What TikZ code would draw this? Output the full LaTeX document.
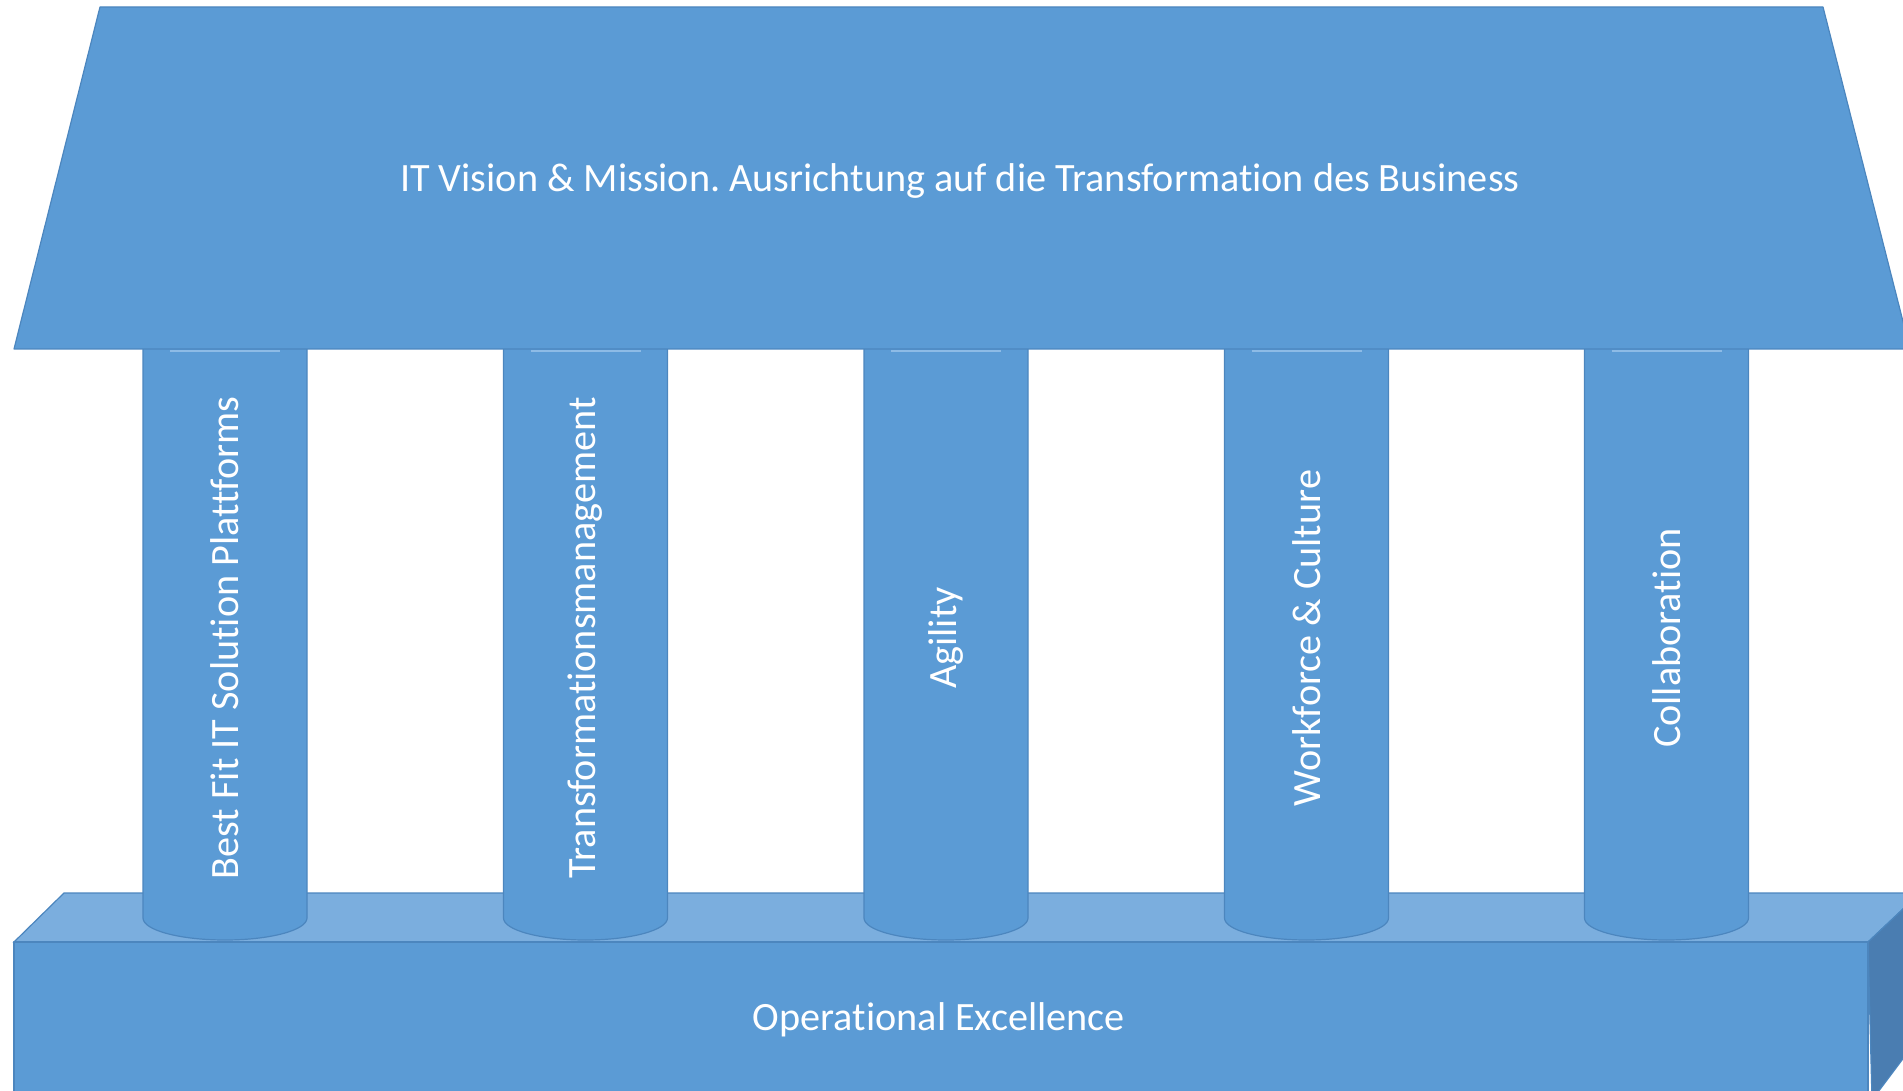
\documentclass[tikz,border=0pt]{standalone}
\usepackage{fontspec}
\setmainfont[Ligatures=NoCommon]{Carlito}
\definecolor{face}{HTML}{5B9BD5}
\definecolor{topface}{HTML}{7BAEDE}
\definecolor{sideface}{HTML}{4A7DB1}
\definecolor{edge}{HTML}{4C86BE}
\definecolor{hilite}{HTML}{8DBBE6}
\tikzset{
  lbl/.style={text=white, font=\frenchspacing\fontsize{20.1}{24}\selectfont, inner sep=0pt},
  shape3d/.style={fill=face, draw=edge, line width=0.6pt, line join=round},
}
\begin{document}
\begin{tikzpicture}[x=0.5pt,y=-0.5pt]
\useasboundingbox (0,0) rectangle (1903,1091);
\begin{scope}
\clip (0,0) rectangle (1903,1091);
% base
\fill[topface, draw=edge, line width=0.6pt] (14,942) -- (64,893) -- (1920,893) -- (1868,942) -- cycle;
\fill[sideface, draw=edge, line width=0.6pt] (1868,942) -- (1920,893) -- (1920,1036) -- (1872,1100) -- cycle;
\draw[shape3d] (14,942) rectangle (1868,1100);
\node[lbl] (base) at (939,1020) {Operational Excellence};
% columns
\foreach \cx/\nm/\txt in {225/c1/Best Fit IT Solution Plattforms, 585.5/c2/Transformationsmanagement, 946/c3/Agility, 1306.5/c4/Workforce \& Culture, 1666.5/c5/Collaboration}{
  \draw[shape3d] (\cx-82,349) -- (\cx-82,918) arc[start angle=180, end angle=0, x radius=82, y radius=22] -- (\cx+82,349);
  \draw[hilite, line width=1.2pt] (\cx-55,351) -- (\cx+55,351);
  \node[lbl, rotate=90] (\nm) at (\cx,638) {\txt};
}
% roof
\draw[shape3d] (100,7) -- (1823,7) -- (1910,349) -- (14,349) -- cycle;
\node[lbl] (roof) at (960,181) {IT Vision \& Mission. Ausrichtung auf die Transformation des Business};
\end{scope}
\end{tikzpicture}
\end{document}
